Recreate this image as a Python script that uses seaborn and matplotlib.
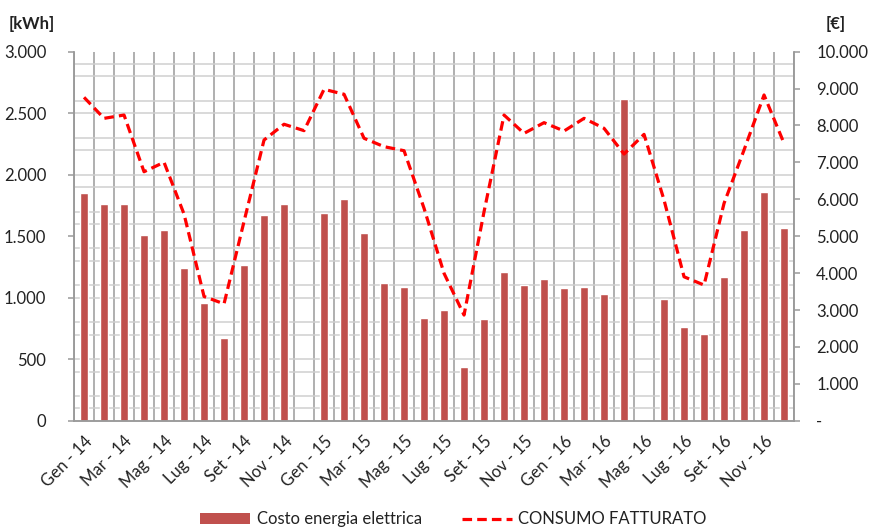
import numpy as np
import pandas as pd
import matplotlib
matplotlib.use("Agg")
import matplotlib.pyplot as plt
import seaborn as sns
from matplotlib.ticker import FixedLocator, FuncFormatter
from matplotlib.patches import Patch
from matplotlib.lines import Line2D

# mesi Gen-14 ... Dic-16
mesi = ["Gen", "Feb", "Mar", "Apr", "Mag", "Giu", "Lug", "Ago", "Set", "Ott", "Nov", "Dic"]
anni = ["14", "15", "16"]
etichette = [f"{m} - {a}" for a in anni for m in mesi]

# costo energia elettrica [€] (barre, asse destro)
costo = [6165, 5865, 5865, 5025, 5165, 4130, 3180, 2250, 4225, 5565, 5865, np.nan,
         5620, 6005, 5075, 3740, 3630, 2790, 3000, 1445, 2745, 4030, 3675, 3835,
         3585, 3630, 3425, 8725, np.nan, 3295, 2545, 2340, 3885, 5165, 6205, 5215]

# consumo fatturato [kWh] (linea, asse sinistro)
consumo = [2629, 2458, 2485, 2024, 2101, 1680, 1010, 950, 1620, 2282, 2410, 2358,
           2694, 2654, 2296, 2228, 2195, 1727, 1198, 859, 1699, 2485, 2336, 2423,
           2355, 2458, 2377, 2168, 2328, 1794, 1170, 1103, 1767, 2201, 2648, 2255]

df = pd.DataFrame({"pos": np.arange(len(etichette)), "mese": etichette,
                   "costo": costo, "consumo": consumo})

sns.set_style("white")
plt.rcParams["font.family"] = ["Lato", "DejaVu Sans"]
TXT = "#222222"
ROSSO_BAR = "#C0504D"
GRIGIO = "#9A9A9A"

fig = plt.figure(figsize=(8.72, 5.29), dpi=100)
ax_bar = fig.add_axes([0.0849, 0.2047, 0.8257, 0.6976])
ax_line = ax_bar.twinx()

# barre (asse in €)
sns.barplot(data=df, x="pos", y="costo", ax=ax_bar, color=ROSSO_BAR,
            width=0.38, saturation=1, order=list(df["pos"]))
ax_bar.set_ylim(0, 10000)

# linea (asse in kWh)
sns.lineplot(data=df, x="pos", y="consumo", ax=ax_line, color="#FF0000",
             linewidth=2.3, linestyle=(0, (3, 1.6)))
ax_line.set_ylim(0, 3000)
ax_bar.set_xlim(-0.5, len(etichette) - 0.5)

# scambio lati: kWh a sinistra, € a destra
ax_bar.yaxis.tick_right()
ax_bar.yaxis.set_label_position("right")
ax_line.yaxis.tick_left()
ax_line.yaxis.set_label_position("left")

# griglia
ax_bar.set_axisbelow(True)
ax_bar.xaxis.set_minor_locator(FixedLocator(np.arange(-0.5, len(etichette), 1)))
ax_bar.yaxis.set_minor_locator(FixedLocator(np.linspace(0, 10000, 31)))
ax_bar.grid(which="minor", axis="x", color=GRIGIO, linewidth=1.1)
ax_bar.grid(which="minor", axis="y", color="#CFCFCF", linewidth=1.1)
ax_bar.grid(which="major", visible=False)
ax_line.grid(False)

# asse x
ax_bar.set_xticks(np.arange(0, len(etichette), 2))
ax_bar.set_xticklabels(etichette[::2], rotation=45, ha="right",
                       rotation_mode="anchor", fontsize=12, color=TXT)
ax_bar.tick_params(axis="x", which="major", length=0, pad=9)
ax_bar.tick_params(axis="x", which="minor", length=4, color=GRIGIO, width=1.1)

# asse € a destra
ax_bar.set_yticks(np.arange(0, 10001, 1000))
ax_bar.yaxis.set_major_formatter(FuncFormatter(
    lambda v, p: "-" if v == 0 else f"{v:,.0f}".replace(",", ".")))
ax_bar.tick_params(axis="y", which="major", right=True, left=False, length=4,
                   color=GRIGIO, width=1.1, labelsize=12, labelcolor=TXT, pad=12)
ax_bar.tick_params(axis="y", which="minor", length=0)

# asse kWh a sinistra
ax_line.set_yticks(np.arange(0, 3001, 500))
ax_line.yaxis.set_major_formatter(FuncFormatter(
    lambda v, p: f"{v:,.0f}".replace(",", ".")))
ax_line.tick_params(axis="y", left=True, right=False, length=4,
                    color=GRIGIO, width=1.1, labelsize=12, labelcolor=TXT, pad=16)

ax_bar.set_xlabel("")
ax_bar.set_ylabel("")
ax_line.set_xlabel("")
ax_line.set_ylabel("")

for a in (ax_bar, ax_line):
    for s in a.spines.values():
        s.set_color(GRIGIO)
        s.set_linewidth(1.1)
    a.spines["top"].set_visible(False)

fig.text(0.010, 0.945, "[kWh]", fontsize=12, fontweight="bold", color=TXT)
fig.text(0.947, 0.945, "[€]", fontsize=12, fontweight="bold", color=TXT)

handles = [Patch(facecolor=ROSSO_BAR, edgecolor="none"),
           Line2D([0], [0], color="#FF0000", linewidth=2.3, linestyle=(0, (3, 1.6)))]
fig.legend(handles, ["Costo energia elettrica", "CONSUMO FATTURATO"],
           loc="lower center", bbox_to_anchor=(0.52, -0.025), ncol=2, frameon=False,
           fontsize=12, handlelength=3.0, handleheight=0.6, handletextpad=0.4,
           columnspacing=2.4, labelcolor=TXT)

fig.savefig("out.png", dpi=100)
